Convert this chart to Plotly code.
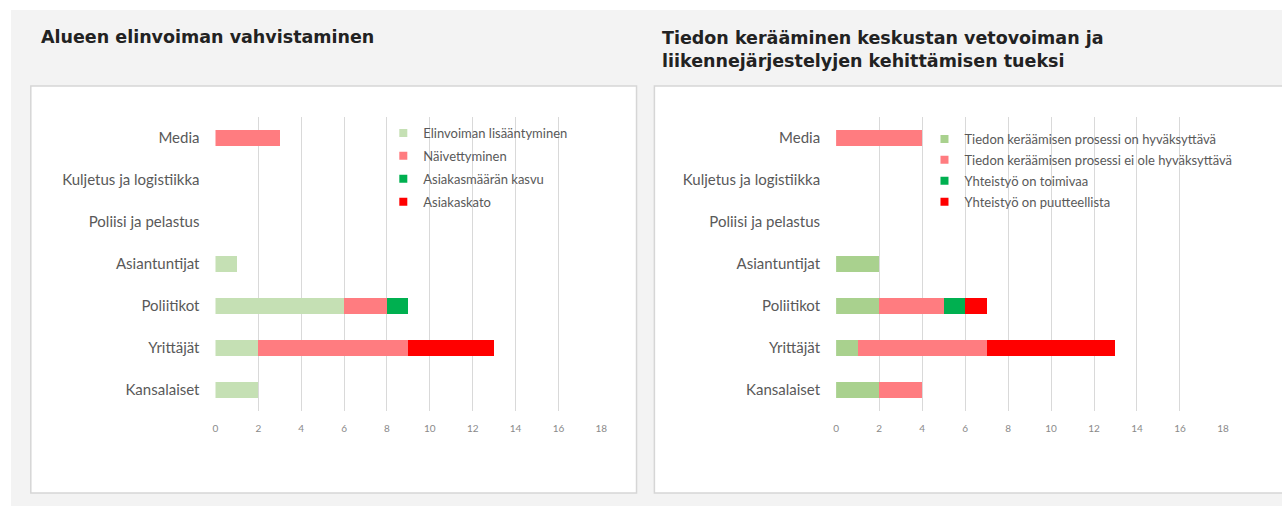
import plotly.graph_objects as go

W, H = 1282, 506

categories = ["Media", "Kuljetus ja logistiikka", "Poliisi ja pelastus",
              "Asiantuntijat", "Poliitikot", "Yrittäjät", "Kansalaiset"]

# vasen kaavio: Alueen elinvoiman vahvistaminen
left_series = ["Elinvoiman lisääntyminen", "Näivettyminen", "Asiakasmäärän kasvu", "Asiakaskato"]
left_elinvoima = [0, 0, 0, 1, 6, 2, 2]
left_naivettyminen = [3, 0, 0, 0, 2, 7, 0]
left_kasvu = [0, 0, 0, 0, 1, 0, 0]
left_kato = [0, 0, 0, 0, 0, 4, 0]

# oikea kaavio: Tiedon kerääminen
right_series = ["Tiedon keräämisen prosessi on hyväksyttävä",
                "Tiedon keräämisen prosessi ei ole hyväksyttävä",
                "Yhteistyö on toimivaa", "Yhteistyö on puutteellista"]
right_hyv = [0, 0, 0, 2, 2, 1, 2]
right_ei_hyv = [4, 0, 0, 0, 3, 6, 2]
right_toimivaa = [0, 0, 0, 0, 1, 0, 0]
right_puutteellista = [0, 0, 0, 0, 1, 6, 0]

x_ticks = [0, 2, 4, 6, 8, 10, 12, 14, 16, 18]

left_colors = ["#c5e0b4", "#ff7c80", "#00b050", "#ff0000"]
right_colors = ["#a9d18e", "#ff7c80", "#00b050", "#ff0000"]


def px_x(v):
    return v / W


def px_y(v):
    return 1 - v / H


fig = go.Figure()


def add_series(names, data, colors, xa, ya, leg, prefix):
    for i, (name, vals, col) in enumerate(zip(names, data, colors)):
        grp = f"{prefix}{i}"
        fig.add_trace(go.Bar(y=categories, x=vals, name=name, orientation="h",
                             marker=dict(color=col, line=dict(width=0)),
                             xaxis=xa, yaxis=ya, legendgroup=grp, showlegend=False))
        # pieni neliö selitteeseen
        fig.add_trace(go.Scatter(x=[None], y=[None], mode="markers", name=name,
                                 marker=dict(symbol="square", size=8, color=col),
                                 xaxis=xa, yaxis=ya, legend=leg, legendgroup=grp))


add_series(left_series, [left_elinvoima, left_naivettyminen, left_kasvu, left_kato],
           left_colors, "x", "y", "legend", "l")
add_series(right_series, [right_hyv, right_ei_hyv, right_toimivaa, right_puutteellista],
           right_colors, "x2", "y2", "legend2", "r")

tick_font = dict(family="Lato, sans-serif", size=10, color="#8a8a8a")
cat_font = dict(family="Lato, sans-serif", size=15, color="#595959")
y_dom = [px_y(411), px_y(117)]

xax = dict(range=[0, 18.02], tickvals=x_ticks, showgrid=True, gridcolor="#d9d9d9",
           gridwidth=1, zeroline=False, showline=False, ticks="",
           tickfont=tick_font, ticklabelstandoff=10, fixedrange=True)
yax = dict(categoryorder="array", categoryarray=categories, autorange="reversed",
           showgrid=False, zeroline=False, showline=False, ticks="",
           tickfont=cat_font, ticklabelstandoff=15, fixedrange=True)

legend_font = dict(family="Lato, sans-serif", size=13, color="#595959")
legend_common = dict(xanchor="left", yanchor="top", font=legend_font,
                     bgcolor="rgba(0,0,0,0)", traceorder="grouped")

fig.update_layout(
    width=W, height=H,
    margin=dict(l=0, r=0, t=0, b=0),
    paper_bgcolor="white", plot_bgcolor="rgba(0,0,0,0)",
    barmode="stack", bargap=0.62,
    xaxis=dict(xax, domain=[px_x(214), px_x(603)], anchor="y"),
    yaxis=dict(yax, domain=y_dom, anchor="x"),
    xaxis2=dict(xax, domain=[px_x(839), px_x(1229)], anchor="y2"),
    yaxis2=dict(yax, domain=y_dom, anchor="x2"),
    legend=dict(legend_common, x=px_x(383), y=px_y(118), tracegroupgap=3),
    legend2=dict(legend_common, x=px_x(928), y=px_y(124), tracegroupgap=1),
    showlegend=True,
)

# taustat ja paneelit
fig.add_shape(type="rect", xref="paper", yref="paper", layer="below",
              x0=px_x(8), x1=1.01, y0=-0.01, y1=px_y(10),
              fillcolor="#f3f3f3", line=dict(width=0))
fig.add_shape(type="rect", xref="paper", yref="paper", layer="below",
              x0=px_x(28), x1=px_x(638), y0=px_y(493), y1=px_y(86),
              fillcolor="white", line=dict(color="#d6d6d6", width=1.5))
fig.add_shape(type="rect", xref="paper", yref="paper", layer="below",
              x0=px_x(656), x1=1.05, y0=px_y(493), y1=px_y(86),
              fillcolor="white", line=dict(color="#d6d6d6", width=1.5))

title_font = dict(family="DejaVu Sans, sans-serif", size=17.5, color="#222222")
fig.add_annotation(x=px_x(36), y=px_y(37), xref="paper", yref="paper",
                   xanchor="left", yanchor="middle", showarrow=False, align="left",
                   text="<b>Alueen elinvoiman vahvistaminen</b>", font=title_font)
fig.add_annotation(x=px_x(662), y=px_y(49), xref="paper", yref="paper",
                   xanchor="left", yanchor="middle", showarrow=False, align="left",
                   text="<b>Tiedon kerääminen keskustan vetovoiman ja<br>"
                        "liikennejärjestelyjen kehittämisen tueksi</b>",
                   font=title_font)

# sivun oletusmarginaali pois, jotta kuva osuu ikkunaan tarkasti
fig.write_html("out.html", config={"displayModeBar": False},
               post_script="document.body.style.margin='0';"
                           "document.body.style.overflow='hidden';")
